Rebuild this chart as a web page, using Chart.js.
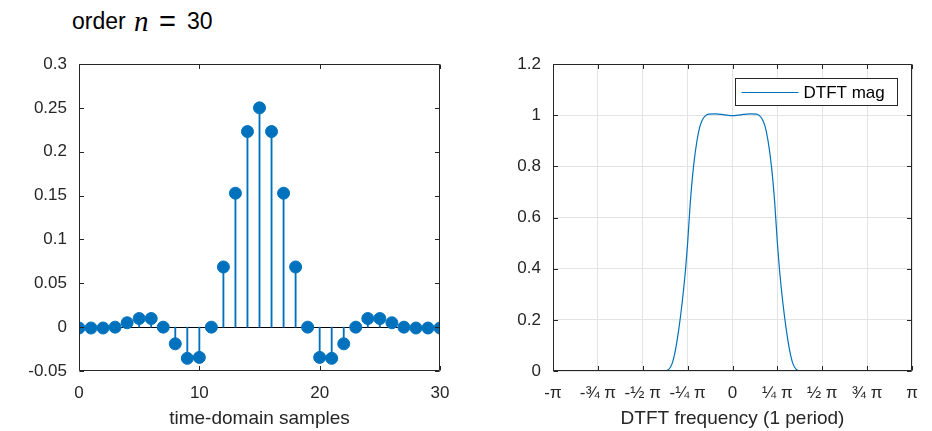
<!DOCTYPE html>
<html><head><meta charset="utf-8">
<script src="https://cdn.jsdelivr.net/npm/chart.js@4"></script>
<style>
html,body{margin:0;padding:0;background:#fff;width:932px;height:431px;overflow:hidden}
.w{position:absolute;top:0;width:466px;height:431px}
.tt{position:absolute;white-space:nowrap;color:#000;line-height:1}
</style></head><body>
<div class="tt" style="left:72px;top:8px;font:23px 'Liberation Sans',Arial,sans-serif">order</div>
<div class="tt" style="left:134px;top:5px;font:italic 29px 'Liberation Serif','DejaVu Serif',serif">n</div>
<div class="tt" style="left:159px;top:5px;font:29px 'Liberation Sans',Arial,sans-serif">=</div>
<div class="tt" style="left:187px;top:8px;font:23px 'Liberation Sans',Arial,sans-serif">30</div>
<div class="w" style="left:0"><canvas id="c1" width="466" height="431"></canvas></div>
<div class="w" style="left:466px"><canvas id="c2" width="466" height="431"></canvas></div>
<script>
// ---- data ----
const sampleIndex = [0,1,2,3,4,5,6,7,8,9,10,11,12,13,14,15,16,17,18,19,20,21,22,23,24,25,26,27,28,29,30];
const sampleValues = [-0.001,-0.001,-0.001,0,0.005,0.0098,0.0098,0,-0.019,-0.0356,-0.0345,0,0.0686,0.1527,0.223,0.25,0.223,0.1527,0.0686,0,-0.0345,-0.0356,-0.019,0,0.0098,0.0098,0.005,0,-0.001,-0.001,-0.001];
const freqPi = [-1,-0.9,-0.8,-0.7,-0.6,-0.5,-0.45,-0.4,-0.373,-0.355,-0.336,-0.318,-0.3,-0.281,-0.262,-0.25,-0.235,-0.217,-0.198,-0.18,-0.161,-0.134,-0.097,-0.06,-0.03,0,0.03,0.06,0.097,0.134,0.161,0.18,0.198,0.217,0.235,0.25,0.262,0.281,0.3,0.318,0.336,0.355,0.373,0.4,0.45,0.5,0.6,0.7,0.8,0.9,1];
const dtftMag = [0,0,0,0,0,0,0,0.001,0.001,0.006,0.03,0.082,0.16,0.264,0.394,0.5,0.66,0.8,0.9,0.96,0.99,1.004,1.005,1.003,1.0,0.998,1.0,1.003,1.005,1.004,0.99,0.96,0.9,0.8,0.66,0.5,0.394,0.264,0.16,0.082,0.03,0.006,0.001,0.001,0,0,0,0,0,0,0];
const freqTickValues = [-1,-0.75,-0.5,-0.25,0,0.25,0.5,0.75,1];
const freqTickLabels = ['-π','-¾ π','-½ π','-¼ π','0','¼ π','½ π','¾ π','π'];
const leftYTicks = {min:-0.05, max:0.3, step:0.05};
const rightYTicks = {min:0, max:1.2, step:0.2};

// ---- styling ----
const BLUE = '#0072BD';
const AXC = '#262626';
const FONT = "'Liberation Sans', Arial, sans-serif";
Chart.defaults.font.family = FONT;
Chart.defaults.color = AXC;

const fmt = v => String(Number(v.toFixed(3)));

const frame = {
  id: 'frame',
  beforeDatasetsDraw(chart, args, opts) {
    if (!opts.baseline) return;
    const {ctx, chartArea: {left, right}} = chart;
    const y = Math.round(chart.scales.y.getPixelForValue(0)) + 0.5;
    ctx.save();
    ctx.strokeStyle = '#000'; ctx.lineWidth = 1;
    ctx.beginPath(); ctx.moveTo(left, y); ctx.lineTo(right, y); ctx.stroke();
    ctx.restore();
  },
  afterDraw(chart, args, opts) {
    const {ctx, chartArea: {left, right, top, bottom}} = chart;
    const L = Math.round(left) + 0.5, R = Math.round(right) - 0.5, T = Math.round(top) + 0.5, B = Math.round(bottom) - 0.5;
    ctx.save();
    ctx.strokeStyle = AXC; ctx.lineWidth = 1;
    ctx.beginPath();
    ctx.rect(L, T, R - L, B - T);
    const tl = 4.5;
    const xs = chart.scales.x, ys = chart.scales.y;
    xs.ticks.forEach(t => {
      const x = Math.round(xs.getPixelForValue(t.value)) + 0.5;
      ctx.moveTo(x, B); ctx.lineTo(x, B - tl);
      ctx.moveTo(x, T); ctx.lineTo(x, T + tl);
    });
    ys.ticks.forEach(t => {
      const y = Math.round(ys.getPixelForValue(t.value)) + 0.5;
      ctx.moveTo(L, y); ctx.lineTo(L + tl, y);
      ctx.moveTo(R, y); ctx.lineTo(R - tl, y);
    });
    ctx.stroke();
    if (opts.legend) {
      const ds = chart.data.datasets[0];
      const bx = Math.round(right) - 15 - 162 + 0.5, by = Math.round(top) + 14 + 0.5, bw = 162, bh = 27;
      ctx.fillStyle = '#fff';
      ctx.fillRect(bx, by, bw, bh);
      ctx.strokeStyle = AXC;
      ctx.strokeRect(bx, by, bw, bh);
      ctx.strokeStyle = ds.borderColor; ctx.lineWidth = 1.2;
      ctx.beginPath(); ctx.moveTo(bx + 6, by + 14); ctx.lineTo(bx + 63, by + 14); ctx.stroke();
      ctx.fillStyle = '#000';
      ctx.font = '17px ' + FONT;
      ctx.textBaseline = 'middle';
      ctx.fillText(ds.label, bx + 68, by + 14.5);
    }
    ctx.restore();
  }
};

function yAxis(r, width) {
  return {
    type: 'linear', min: r.min, max: r.max,
    afterFit: s => { s.width = width; },
    ticks: { stepSize: r.step, font: {size: 17}, padding: 12, color: AXC, callback: v => fmt(v) },
    border: { display: false }
  };
}

// ---- left chart: stem plot ----
new Chart(document.getElementById('c1'), {
  type: 'scatter',
  data: {
    datasets: [
      { type: 'scatter', label: 'samples', order: 0,
        data: sampleIndex.map((n, i) => ({x: n, y: sampleValues[i]})),
        pointRadius: 6, pointBorderWidth: 1, backgroundColor: BLUE, borderColor: BLUE },
      { type: 'bar', label: 'stems', order: 1,
        data: sampleIndex.map((n, i) => ({x: n, y: sampleValues[i]})),
        barThickness: 1.2, backgroundColor: BLUE, borderWidth: 0 }
    ]
  },
  options: {
    responsive: false, animation: false, events: [],
    layout: { padding: { left: 0, right: 26, top: 64, bottom: 0 } },
    plugins: { legend: { display: false }, tooltip: { enabled: false }, frame: { baseline: true } },
    scales: {
      x: {
        type: 'linear', min: 0, max: 30, offset: false,
        afterFit: s => { s.height = 60; },
        grid: { display: false, drawTicks: false },
        border: { display: false },
        ticks: { stepSize: 10, font: {size: 17}, padding: 12, color: AXC },
        title: { display: true, text: 'time-domain samples', font: {size: 19}, color: AXC, padding: {top: 0, bottom: 1} }
      },
      y: Object.assign(yAxis(leftYTicks, 79), { grid: { display: false, drawTicks: false } })
    }
  },
  plugins: [frame]
});

// ---- right chart: DTFT magnitude ----
new Chart(document.getElementById('c2'), {
  type: 'scatter',
  data: {
    datasets: [
      { label: 'DTFT mag', showLine: true,
        data: freqPi.map((f, i) => ({x: f, y: dtftMag[i]})),
        borderColor: BLUE, borderWidth: 1.2, pointRadius: 0, cubicInterpolationMode: 'monotone', fill: false }
    ]
  },
  options: {
    responsive: false, animation: false, events: [],
    layout: { padding: { left: 0, right: 20, top: 64, bottom: 0 } },
    plugins: { legend: { display: false }, tooltip: { enabled: false }, frame: { legend: true } },
    scales: {
      x: {
        type: 'linear', min: -1, max: 1,
        afterFit: s => { s.height = 60; },
        afterBuildTicks: s => { s.ticks = freqTickValues.map(v => ({value: v})); },
        grid: { color: '#e3e3e3', drawTicks: false },
        border: { display: false },
        ticks: { font: {size: 17}, padding: 12, color: AXC, callback: (v, i) => freqTickLabels[i] },
        title: { display: true, text: 'DTFT frequency (1 period)', font: {size: 19}, color: AXC, padding: {top: 0, bottom: 1} }
      },
      y: Object.assign(yAxis(rightYTicks, 87), { grid: { color: '#e3e3e3', drawTicks: false } })
    }
  },
  plugins: [frame]
});
</script>
</body></html>
